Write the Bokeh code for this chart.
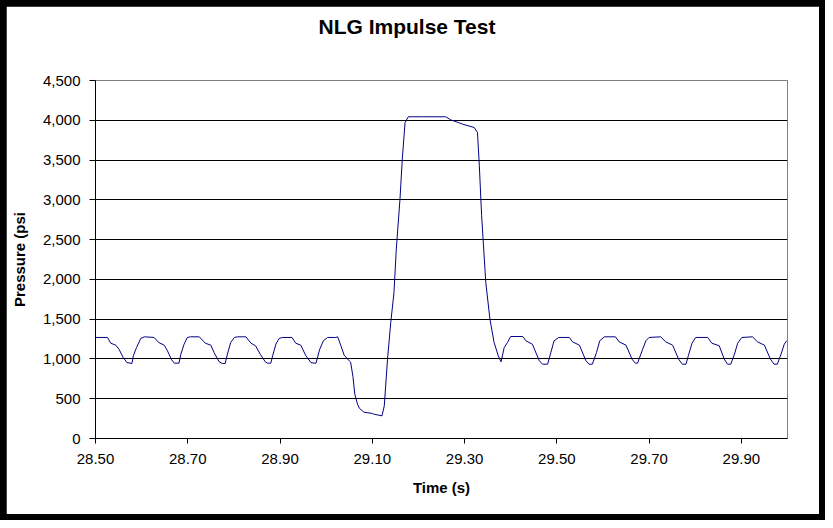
from bokeh.plotting import figure
from bokeh.models import Range1d, FixedTicker, NumeralTickFormatter, Title
from bokeh.layouts import column
from bokeh.embed import file_html
from bokeh.resources import INLINE

title_text = "NLG Impulse Test"
x_label = "Time (s)"
y_label = "Pressure (psi"

time_s = [
    28.500, 28.526, 28.533, 28.544, 28.551, 28.560, 28.568, 28.579, 28.582, 28.589,
    28.598, 28.606, 28.627, 28.637, 28.649, 28.656, 28.665, 28.671, 28.681, 28.685,
    28.692, 28.699, 28.706, 28.725, 28.738, 28.750, 28.757, 28.768, 28.775, 28.781,
    28.786, 28.793, 28.801, 28.808, 28.826, 28.837, 28.847, 28.857, 28.868, 28.873,
    28.880, 28.884, 28.891, 28.898, 28.905, 28.926, 28.934, 28.945, 28.956, 28.967,
    28.974, 28.978, 28.986, 28.994, 29.003, 29.021, 29.025, 29.032, 29.039, 29.050,
    29.053, 29.058, 29.062, 29.068, 29.072, 29.082, 29.100, 29.104, 29.121, 29.126,
    29.133, 29.140, 29.147, 29.152, 29.160, 29.165, 29.171, 29.178, 29.209, 29.259,
    29.270, 29.296, 29.321, 29.328, 29.332, 29.337, 29.346, 29.355, 29.364, 29.373,
    29.379, 29.386, 29.393, 29.400, 29.426, 29.433, 29.447, 29.462, 29.469, 29.480,
    29.487, 29.494, 29.504, 29.527, 29.534, 29.549, 29.563, 29.570, 29.577, 29.586,
    29.593, 29.603, 29.627, 29.635, 29.650, 29.663, 29.670, 29.675, 29.686, 29.693,
    29.700, 29.725, 29.736, 29.751, 29.764, 29.772, 29.780, 29.785, 29.793, 29.801,
    29.827, 29.836, 29.852, 29.863, 29.870, 29.877, 29.885, 29.892, 29.901, 29.924,
    29.935, 29.950, 29.963, 29.971, 29.978, 29.986, 29.993, 29.998,
]
pressure_psi = [
    1270, 1270, 1198, 1173, 1122, 1018, 955, 943, 1040, 1144,
    1257, 1278, 1270, 1207, 1173, 1102, 989, 947, 947, 1060,
    1185, 1270, 1278, 1278, 1198, 1173, 1081, 964, 943, 943,
    1060, 1207, 1270, 1278, 1278, 1198, 1165, 1060, 964, 947,
    947, 1040, 1185, 1257, 1270, 1270, 1198, 1173, 1040, 955,
    947, 947, 1122, 1228, 1270, 1270, 1278, 1165, 1047, 977,
    960, 780, 560, 430, 380, 330, 315, 305, 285, 411,
    997, 1458, 1835, 2380, 3008, 3511, 3972, 4044, 4044, 4044,
    4006, 3951, 3909, 3846, 3428, 2799, 1961, 1500, 1207, 1040,
    964, 1144, 1207, 1282, 1282, 1228, 1185, 977, 934, 934,
    1081, 1228, 1270, 1270, 1215, 1173, 977, 934, 934, 1081,
    1228, 1278, 1278, 1215, 1173, 997, 947, 947, 1122, 1228,
    1270, 1278, 1215, 1173, 997, 934, 934, 1040, 1198, 1270,
    1270, 1198, 1165, 997, 934, 934, 1060, 1198, 1270, 1278,
    1215, 1173, 997, 934, 934, 1060, 1185, 1228,
]
x_ticks = [28.5, 28.7, 28.9, 29.1, 29.3, 29.5, 29.7, 29.9]
y_ticks = [0, 500, 1000, 1500, 2000, 2500, 3000, 3500, 4000, 4500]
y_grid = [500, 1000, 1500, 2000, 2500, 3000, 3500, 4000]

FONT = "Liberation Sans"

p = figure(width=813, height=508, output_backend="svg", toolbar_location=None,
           x_range=Range1d(28.5, 30.0), y_range=Range1d(0, 4500),
           min_border_left=89, min_border_right=32, min_border_top=74,
           min_border_bottom=76,
           background_fill_color="white", border_fill_color="white")

p.line(time_s, pressure_psi, line_color="#000080", line_width=1)

# empty spacer panel between the plot frame and the title
p.add_layout(Title(text=" ", text_font_size="1px", standoff=40), "above")
p.add_layout(Title(text=title_text, align="left", offset=223, standoff=0,
                   text_font=FONT, text_font_size="21px", text_font_style="bold",
                   text_color="black"), "above")

p.outline_line_color = "#808080"
p.outline_line_width = 1

p.xgrid.visible = False
p.ygrid.ticker = FixedTicker(ticks=y_grid)
p.ygrid.grid_line_color = "black"
p.ygrid.grid_line_width = 1

for ax in (p.xaxis[0], p.yaxis[0]):
    ax.axis_line_color = "black"
    ax.major_tick_line_color = "black"
    ax.minor_tick_line_color = None
    ax.major_tick_in = 0
    ax.major_label_text_font = FONT
    ax.major_label_text_font_size = "15px"
    ax.major_label_text_color = "black"
    ax.axis_label_text_font = FONT
    ax.axis_label_text_font_size = "15px"
    ax.axis_label_text_font_style = "bold"
    ax.axis_label_text_color = "black"

p.xaxis.ticker = FixedTicker(ticks=x_ticks)
p.xaxis.formatter = NumeralTickFormatter(format="0.00")
p.xaxis.major_tick_out = 5
p.xaxis.major_label_standoff = 10
p.xaxis.axis_label = x_label
p.xaxis.axis_label_standoff = 12

p.yaxis.ticker = FixedTicker(ticks=y_ticks)
p.yaxis.formatter = NumeralTickFormatter(format="0,0")
p.yaxis.major_tick_out = 6
p.yaxis.major_label_standoff = 9
p.yaxis.axis_label = y_label
p.yaxis.axis_label_standoff = 12

layout = column(p, styles={"background-color": "black", "padding": "6px"})

open("out.html", "w").write(file_html(layout, INLINE))
